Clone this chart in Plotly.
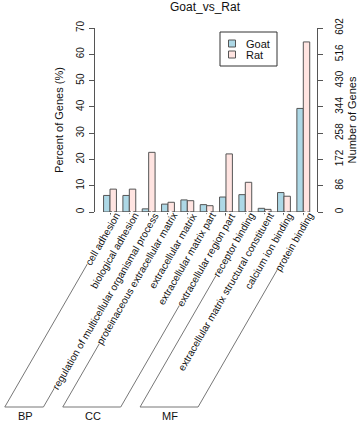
import math
import plotly.graph_objects as go

# ---------------- data ----------------
categories = [
    "cell adhesion",
    "biological adhesion",
    "regulation of multicellular organismal process",
    "proteinaceous extracellular matrix",
    "extracellular matrix",
    "extracellular matrix part",
    "extracellular region part",
    "receptor binding",
    "extracellular matrix structural constituent",
    "calcium ion binding",
    "protein binding",
]
groups = ["BP", "BP", "BP", "CC", "CC", "CC", "CC", "MF", "MF", "MF", "MF"]
series_names = ["Goat", "Rat"]
goat = [6.3, 6.3, 1.2, 3.0, 4.6, 2.8, 5.7, 6.6, 1.4, 7.4, 39.4]
rat = [8.7, 8.7, 22.7, 3.7, 4.3, 2.4, 22.1, 11.3, 1.0, 6.0, 64.7]
pct_ticks = [0, 10, 20, 30, 40, 50, 60, 70]
gene_ticks = [0, 86, 172, 258, 344, 430, 516, 602]

# ---------------- geometry / style ----------------
W, H = 358, 421
ML, MR, MT, MB = 95, 41, 28, 209
PW, PH = W - ML - MR, H - MT - MB
XR = (-0.776, 10.709)
ANG = 60.0
TH = math.radians(ANG)
TXT_H = 12.5
EX, EY = 1.0, 223.0
SHIFT = 10.5         # empirical shift of label text along its own direction
BOT = 407.0

COLORS = ["#ADD8E6", "#FFE4E1"]
AX = "#555555"
TXT = "#111111"
FONT = "Liberation Sans, Arial, Helvetica, sans-serif"


def cx(i):
    return ML + (i - XR[0]) / (XR[1] - XR[0]) * PW


def px(x):
    return (x - ML) / PW


def py(y):
    return (H - MB - y) / PH


fig = go.Figure()
for name, vals, col in zip(series_names, [goat, rat], COLORS):
    fig.add_bar(x=categories, y=vals, name=name, showlegend=False,
                marker=dict(color=col, line=dict(color=AX, width=1)))
fig.add_scatter(x=[categories[0]], y=[0], yaxis="y2", mode="markers",
                marker=dict(opacity=0), showlegend=False, hoverinfo="skip")

shapes = []
annotations = []

# x axis line between first and last tick
shapes.append(dict(type="line", xref="x", yref="y", x0=0, x1=len(categories) - 1,
                   y0=0, y1=0, line=dict(color=AX, width=1)))

# rotated category labels
ends = []
for i, c in enumerate(categories):
    ex, ey = cx(i) + EX, EY
    ends.append((ex, ey))
    ax_ = ex + TXT_H / 2 * math.sin(TH) + SHIFT * math.cos(TH)
    ay_ = ey - TXT_H / 2 * math.cos(TH) - SHIFT * math.sin(TH)
    annotations.append(dict(text=c, x=px(ax_), y=py(ay_), xref="paper", yref="paper",
                            xanchor="right", yanchor="top", textangle=-ANG,
                            showarrow=False, font=dict(size=10.1, color=TXT, family=FONT),
                            bgcolor="white", borderpad=0, borderwidth=0))


def corner(i):
    ex, ey = ends[i]
    t = (BOT - ey) / math.sin(TH)
    return ex - t * math.cos(TH), ex, ey


# group brackets
order = []
for g in groups:
    if g not in order:
        order.append(g)
LC = "#777777"
for g in order:
    idx = [i for i, gg in enumerate(groups) if gg == g]
    bl, el_x, el_y = corner(idx[0])
    br, er_x, er_y = corner(idx[-1])
    for (xa, ya, xb, yb) in [(el_x, el_y, bl, BOT), (er_x, er_y, br, BOT), (bl, BOT, br, BOT)]:
        shapes.append(dict(type="line", xref="paper", yref="paper", x0=px(xa), y0=py(ya),
                           x1=px(xb), y1=py(yb), line=dict(color=LC, width=1), layer="below"))
    annotations.append(dict(text=g, x=px((bl + br) / 2 + 1), y=py(416), xref="paper", yref="paper",
                            xanchor="center", yanchor="middle", showarrow=False,
                            font=dict(size=11, color=TXT, family=FONT)))

# legend (drawn R-style)
LX0, LX1, LY0, LY1 = 220, 277, 32, 66
shapes.append(dict(type="rect", xref="paper", yref="paper", x0=px(LX0), x1=px(LX1),
                   y0=py(LY0), y1=py(LY1), line=dict(color="#333333", width=1),
                   fillcolor="white"))
for k, (name, col) in enumerate(zip(series_names, COLORS)):
    yc = 43.5 + 11 * k
    shapes.append(dict(type="rect", xref="paper", yref="paper", x0=px(228.5), x1=px(235.5),
                       y0=py(yc - 3.5), y1=py(yc + 3.5), line=dict(color=AX, width=1),
                       fillcolor=col))
    annotations.append(dict(text=name, x=px(244), y=py(yc), xref="paper", yref="paper",
                            xanchor="left", yanchor="middle", showarrow=False,
                            font=dict(size=11, color=TXT, family=FONT)))

fig.update_layout(
    width=W, height=H,
    margin=dict(l=ML, r=MR, t=MT, b=MB, pad=0, autoexpand=False),
    plot_bgcolor="white", paper_bgcolor="white",
    barmode="group", bargap=0.335, bargroupgap=0,
    font=dict(family=FONT, color=TXT, size=10),
    title=dict(text="Goat_vs_Rat", x=205 / W, xanchor="center", xref="container",
               y=1 - 7 / H, yanchor="middle", font=dict(size=12, color=TXT, family=FONT)),
    xaxis=dict(type="category", range=list(XR), showline=False, ticks="outside", ticklen=5,
               tickcolor=AX, tickwidth=1, showticklabels=False, showgrid=False,
               zeroline=False, tickvals=categories, automargin=False),
    yaxis=dict(range=[0, 70], tickvals=pct_ticks, ticks="outside", ticklen=5, tickcolor=AX,
               showline=True, linecolor=AX, linewidth=1, tickangle=-90, showgrid=False,
               zeroline=False, tickfont=dict(size=10, color=TXT), ticklabelstandoff=1,
               automargin=False,
               title=dict(text="Percent of Genes (%)", font=dict(size=11, color=TXT), standoff=9)),
    yaxis2=dict(range=[0, 602], overlaying="y", side="right", anchor="x", tickvals=gene_ticks,
                ticks="outside", ticklen=5, tickcolor=AX, showline=True, linecolor=AX,
                linewidth=1, tickangle=-90, showgrid=False, zeroline=False,
                tickfont=dict(size=10, color=TXT), ticklabelstandoff=8, automargin=False,
                title=dict(text="Number of Genes", font=dict(size=11, color=TXT), standoff=5)),
    shapes=shapes,
    annotations=annotations,
    showlegend=False,
)

fig.write_html("out.html", config={"displayModeBar": False},
               post_script="document.body.style.margin='0';")
